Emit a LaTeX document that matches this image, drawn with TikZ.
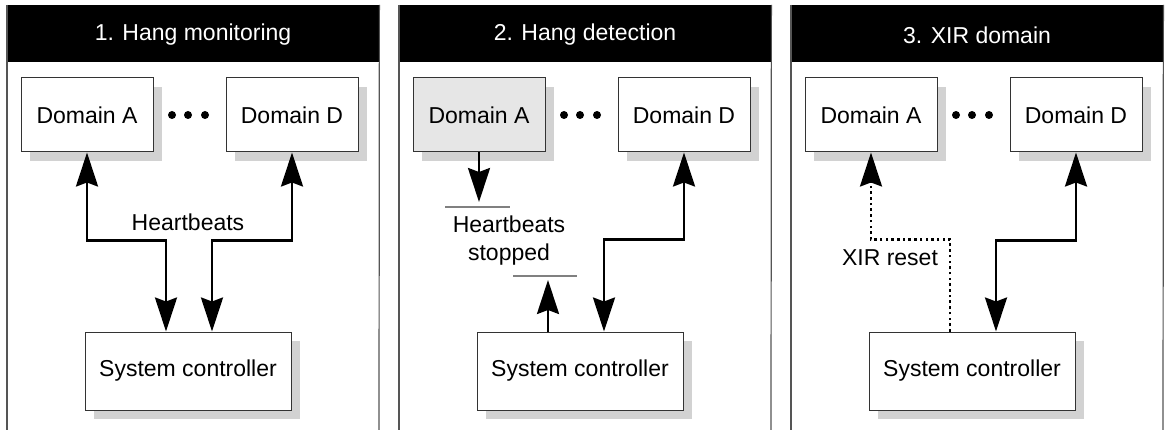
\documentclass[tikz,border=0pt]{standalone}
\usepackage{fontspec}
\setmainfont{Liberation Sans}
\usetikzlibrary{arrows.meta,shadows}
\definecolor{shgray}{HTML}{D2D2D2}
\definecolor{boxline}{HTML}{333333}
\definecolor{hanggray}{HTML}{E6E6E6}
\definecolor{framegray}{HTML}{555555}
\begin{document}
\begin{tikzpicture}[x=1pt,y=-1pt,
  every node/.style={font=\fontsize{23}{28}\selectfont},
  hdr/.style={fill=black,minimum width=372pt,minimum height=57pt,inner sep=0pt,anchor=north west},
  hdrtext/.style={text=white,inner sep=0pt},
  frameline/.style={draw=framegray,line width=1.2pt},
  dombox/.style={draw=boxline,line width=1pt,fill=white,minimum width=132pt,minimum height=74pt,inner sep=0pt,
    drop shadow={shadow xshift=9pt,shadow yshift=-9pt,fill=shgray,opacity=1}},
  ctlbox/.style={dombox,minimum width=206pt,minimum height=78pt},
  tip/.style={-{Stealth[length=34pt,width=22pt,inset=4pt]}},
  dtip/.style={{Stealth[length=34pt,width=22pt,inset=4pt]}-{Stealth[length=34pt,width=22pt,inset=4pt]}},
  conn/.style={line width=2.6pt},
  dotconn/.style={line width=2.5pt,dash pattern=on 2.5pt off 3.2pt},
  lbl/.style={inner sep=1pt,align=center},
  grayline/.style={draw=gray,line width=1.5pt}
]
\useasboundingbox (0,0) rectangle (1167,430);
\fill[white] (0,0) rectangle (1167,430);

% ---------- Panel 1 ----------
\begin{scope}[xshift=7pt]
  \node[hdr] (h1) at (0,5) {};
  \node[hdrtext] (h1t) at (186,35) {1. Hang monitoring};
  \draw[frameline] (h1.north west) -- (0,430);
  \draw[frameline] (h1.north east) -- (372,430);
  \node[dombox] (p1a) at (80,115) {Domain A};
  \node[dombox] (p1d) at (285,115) {Domain D};
  \node[ctlbox] (p1c) at (181,371) {System controller};
  \foreach \dx in {165,181,198} \fill (\dx,115) circle (4pt);
  \draw[conn,dtip] (p1a.south) -- ++(0,88) -| ([xshift=-22pt]p1c.north);
  \draw[conn,dtip] (p1d.south) -- ++(0,88) -| ([xshift=24pt]p1c.north);
  \node[lbl] (p1hb) at (181,222) {Heartbeats};
\end{scope}

% ---------- Panel 2 ----------
\begin{scope}[xshift=399pt]
  \node[hdr] (h2) at (0,5) {};
  \node[hdrtext] (h2t) at (186,35) {2. Hang detection};
  \draw[frameline] (h2.north west) -- (0,430);
  \draw[frameline] (h2.north east) -- (372,430);
  \node[dombox,fill=hanggray] (p2a) at (80,115) {Domain A};
  \node[dombox] (p2d) at (285,115) {Domain D};
  \node[ctlbox] (p2c) at (181,371) {System controller};
  \foreach \dx in {165,181,198} \fill (\dx,115) circle (4pt);
  \coordinate (p2t1) at (80,202);
  \coordinate (p2t2) at (149,280);
  \draw[conn,tip] (p2a.south) -- (p2t1);
  \draw[conn,tip] ([xshift=-32pt]p2c.north) -- (p2t2);
  \draw[conn,dtip] (p2d.south) -- ++(0,87) -| ([xshift=24pt]p2c.north);
  \draw[grayline] (46,207) -- (111,207);
  \draw[grayline] (114,276) -- (178,276);
  \node[lbl] (p2hb) at (110,241) {Heartbeats\\stopped};
\end{scope}

% ---------- Panel 3 ----------
\begin{scope}[xshift=791pt]
  \node[hdr] (h3) at (0,5) {};
  \node[hdrtext] (h3t) at (186,35) {3. XIR domain};
  \draw[frameline] (h3.north west) -- (0,430);
  \draw[frameline] (h3.north east) -- (372,430);
  \node[dombox] (p3a) at (80,115) {Domain A};
  \node[dombox] (p3d) at (285,115) {Domain D};
  \node[ctlbox] (p3c) at (181,371) {System controller};
  \foreach \dx in {165,181,198} \fill (\dx,115) circle (4pt);
  \draw[dotconn,tip] ([xshift=-22pt]p3c.north) -- ++(0,-92) -| (p3a.south);
  \draw[conn,dtip] (p3d.south) -- ++(0,88) -| ([xshift=24pt]p3c.north);
  \node[lbl] (p3xr) at (99,258) {XIR reset};
\end{scope}
\end{tikzpicture}
\end{document}
